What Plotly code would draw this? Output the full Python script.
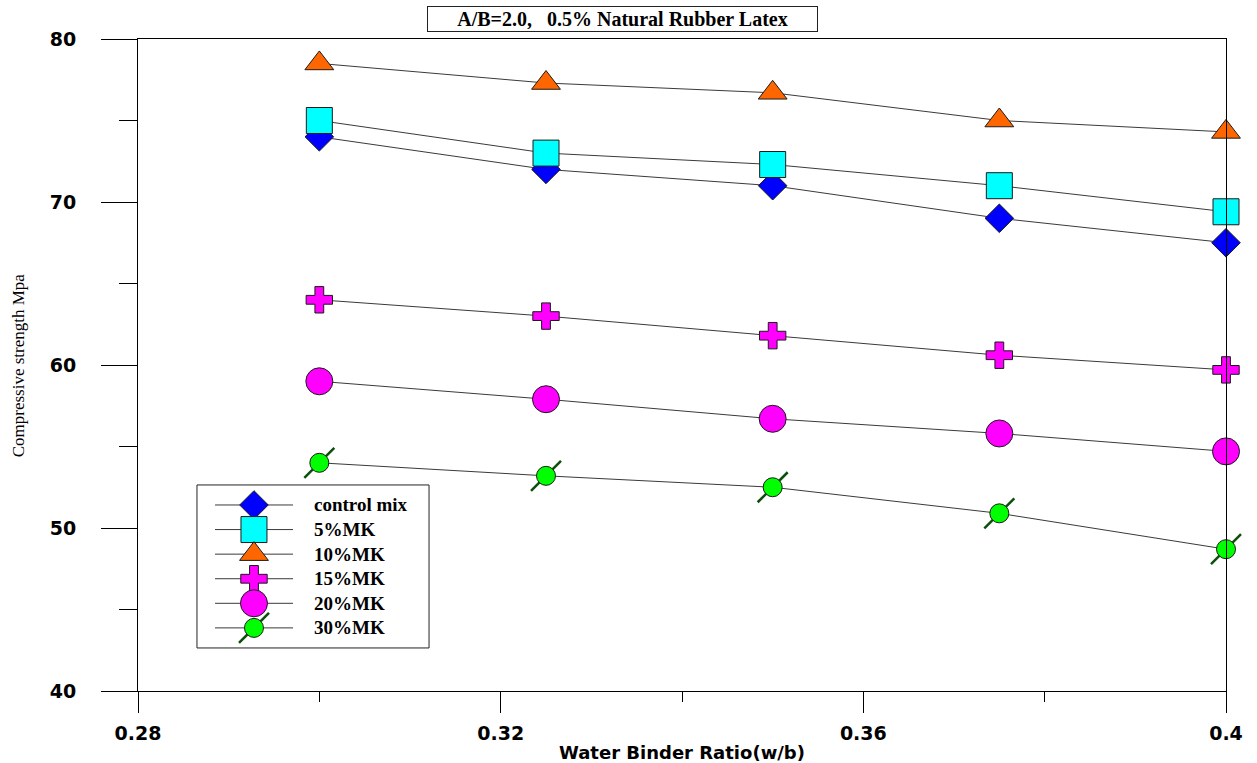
import plotly.graph_objects as go

# ---------------- data ----------------
wb_ratio = [0.30, 0.325, 0.35, 0.375, 0.40]
control_mix = [74.0, 72.0, 71.0, 69.0, 67.5]
mk5 = [75.0, 73.0, 72.3, 71.0, 69.4]
mk10 = [78.5, 77.3, 76.7, 75.0, 74.3]
mk15 = [64.0, 63.0, 61.8, 60.6, 59.7]
mk20 = [59.0, 57.9, 56.7, 55.8, 54.7]
mk30 = [54.0, 53.2, 52.5, 50.9, 48.7]

series_names = ["control mix", "5%MK", "10%MK", "15%MK", "20%MK", "30%MK"]
x_ticks = [0.28, 0.32, 0.36, 0.4]
x_ticktext = ["0.28", "0.32", "0.36", "0.4"]
x_minor = [0.30, 0.34, 0.38]
y_ticks = [40, 50, 60, 70, 80]
y_minor = [45, 55, 65, 75]

# ---------------- styles ----------------
styles = [
    dict(symbol="diamond", size=22, color="#0000FF"),
    dict(symbol="square", size=26, color="#00FFFF"),
    dict(symbol="triangle-up", size=25, color="#FF6600"),
    dict(symbol="cross", size=22, color="#FF00FF"),
    dict(symbol="circle", size=27, color="#FF00FF"),
    dict(symbol="circle", size=19, color="#00FF00"),
]
all_series = [control_mix, mk5, mk10, mk15, mk20, mk30]
LINE_COLOR = "#3a3a3a"
SLASH = dict(symbol="line-ne", size=30, line=dict(color="#0B4F0B", width=2.5))

fig = go.Figure()

for name, vals, st in zip(series_names, all_series, styles):
    fig.add_trace(go.Scatter(
        x=wb_ratio, y=vals, mode="lines", name=name,
        line=dict(color=LINE_COLOR, width=1), showlegend=False,
        hoverinfo="skip", cliponaxis=False))
for name, vals, st in zip(series_names, all_series, styles):
    if name == "30%MK":
        fig.add_trace(go.Scatter(
            x=wb_ratio, y=vals, mode="markers", marker=SLASH,
            showlegend=False, hoverinfo="skip", cliponaxis=False))
    fig.add_trace(go.Scatter(
        x=wb_ratio, y=vals, mode="markers", name=name,
        marker=dict(symbol=st["symbol"], size=st["size"], color=st["color"],
                    line=dict(color="#1a1a1a", width=1)),
        showlegend=False, cliponaxis=False))

# ---------------- manual legend (paper-like overlay axes) ----------------
leg_x0, leg_x1 = 0.0542, 0.2675
leg_y0, leg_y1 = 0.066, 0.316
row_top = 0.2853
row_step = 0.0377
line_x0, line_xm, line_x1 = 0.0708, 0.1066, 0.1425
text_x = 0.160

fig.add_shape(type="rect", xref="paper", yref="paper",
              x0=leg_x0, x1=leg_x1, y0=leg_y0, y1=leg_y1,
              line=dict(color="#222222", width=1), fillcolor="white", layer="below")

for i, (name, st) in enumerate(zip(series_names, styles)):
    yy = row_top - i * row_step
    fig.add_trace(go.Scatter(
        x=[line_x0, line_x1], y=[yy, yy], mode="lines",
        line=dict(color=LINE_COLOR, width=1), xaxis="x2", yaxis="y2",
        showlegend=False, hoverinfo="skip", cliponaxis=False))
    if name == "30%MK":
        fig.add_trace(go.Scatter(
            x=[line_xm], y=[yy], mode="markers", marker=SLASH,
            xaxis="x2", yaxis="y2", showlegend=False, hoverinfo="skip", cliponaxis=False))
    fig.add_trace(go.Scatter(
        x=[line_xm], y=[yy], mode="markers",
        marker=dict(symbol=st["symbol"], size=st["size"], color=st["color"],
                    line=dict(color="#1a1a1a", width=1)),
        xaxis="x2", yaxis="y2", showlegend=False, hoverinfo="skip", cliponaxis=False))
    fig.add_annotation(x=text_x, y=yy, xref="paper", yref="paper", text=name,
                       showarrow=False, xanchor="left", yanchor="middle",
                       font=dict(family="Liberation Serif", size=19, color="black", weight="bold"))

# ---------------- titles ----------------
fig.add_annotation(
    x=0.445, y=1.031, xref="paper", yref="paper",
    text="A/B=2.0,&nbsp;&nbsp;&nbsp;0.5% Natural Rubber Latex",
    showarrow=False, xanchor="center", yanchor="middle",
    font=dict(family="Liberation Serif", size=20, color="black", weight="bold"),
    bordercolor="#222222", borderwidth=1, borderpad=2, width=385, height=20,
    bgcolor="white")

fig.add_annotation(
    x=0.5, y=-0.094, xref="paper", yref="paper",
    text="Water Binder Ratio(w/b)", showarrow=False,
    xanchor="center", yanchor="middle",
    font=dict(family="DejaVu Sans", size=18, color="black", weight="bold"))

fig.add_annotation(
    x=-0.110, y=0.5, xref="paper", yref="paper",
    text="Compressive strength Mpa", showarrow=False, textangle=-90,
    xanchor="center", yanchor="middle",
    font=dict(family="Liberation Serif", size=17, color="black"))

tick_font = dict(family="DejaVu Sans", size=19, color="black", weight="bold")

fig.update_layout(
    width=1257, height=763,
    margin=dict(l=138, r=31, t=39, b=72),
    paper_bgcolor="white", plot_bgcolor="white",
    xaxis=dict(range=[0.28, 0.4], tickmode="array", tickvals=x_ticks, ticktext=x_ticktext,
               ticks="outside", ticklen=21, tickwidth=1, tickcolor="black",
               showline=True, linecolor="black", linewidth=1, mirror=True,
               showgrid=False, zeroline=False, tickfont=tick_font, ticklabelstandoff=4,
               minor=dict(tickmode="array", tickvals=x_minor, ticks="outside",
                          ticklen=10, tickwidth=1, tickcolor="black", showgrid=False)),
    yaxis=dict(range=[40, 80], tickmode="array", tickvals=y_ticks,
               ticks="outside", ticklen=36, tickwidth=1, tickcolor="black",
               showline=True, linecolor="black", linewidth=1, mirror=True,
               showgrid=False, zeroline=False, tickfont=tick_font, ticklabelstandoff=21,
               minor=dict(tickmode="array", tickvals=y_minor, ticks="outside",
                          ticklen=18, tickwidth=1, tickcolor="black", showgrid=False)),
    xaxis2=dict(range=[0, 1], overlaying="x", visible=False, fixedrange=True),
    yaxis2=dict(range=[0, 1], overlaying="y", visible=False, fixedrange=True),
    showlegend=False,
)

fig.write_html("out.html")
